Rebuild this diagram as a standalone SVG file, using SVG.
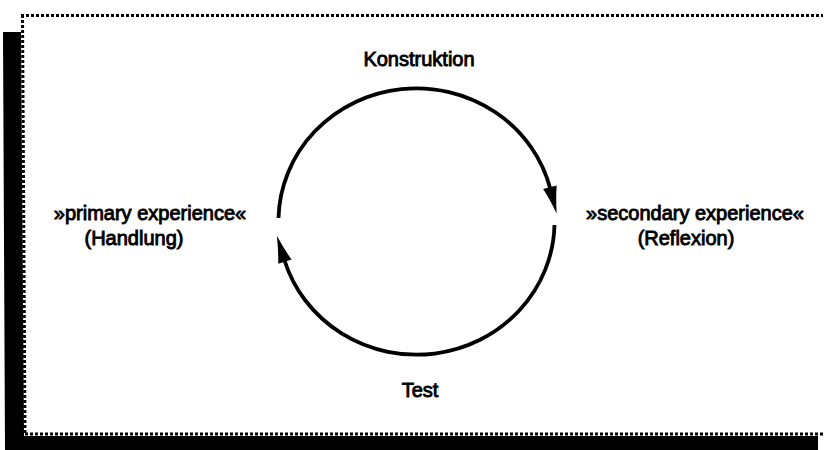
<svg xmlns="http://www.w3.org/2000/svg" width="825" height="450" viewBox="0 0 825 450">
<style>
.dot{fill:none;stroke:#000;stroke-width:3;stroke-dasharray:3 2}
.arc{fill:none;stroke:#000;stroke-width:3.8}
.lbl{font-family:"Liberation Sans",Arial,sans-serif;font-size:20px;fill:#000;stroke:#000;stroke-width:0.9;text-anchor:middle}
</style>
<defs>
<marker id="ah" markerUnits="userSpaceOnUse" orient="auto" refX="0" refY="0" markerWidth="30" markerHeight="20" overflow="visible">
<path d="M-2,-7 Q8,-3.5 25,0 Q8,3.5 -2,7 Z" fill="#000"/>
</marker>
</defs>
<rect width="825" height="450" fill="#fff"/>
<g id="frame">
<polygon points="3,32 21,32 24,436 818,436 818,450 5,450" fill="#000"/>
<line class="dot" x1="21" y1="15.5" x2="823" y2="15.5"/>
<line class="dot" x1="22.5" y1="15" x2="25" y2="434"/>
<line class="dot" x1="25" y1="434" x2="823" y2="434"/>
</g>
<g id="connectors">
<path id="c-konstruktion" class="arc" d="M 278.5 218 A 138 133 0 0 1 550.4 189.3" marker-end="url(#ah)"/>
<path id="c-test" class="arc" d="M 554.5 225 A 138 133 0 0 1 284.3 259.7" marker-end="url(#ah)"/>
</g>
<g id="konstruktion"><text class="lbl" x="419" y="66">Konstruktion</text></g>
<g id="test"><text class="lbl" x="420" y="397">Test</text></g>
<g id="primary">
<text class="lbl" x="150" y="220">»primary experience«</text>
<text class="lbl" x="134" y="245">(Handlung)</text>
</g>
<g id="secondary">
<text class="lbl" x="695" y="220">»secondary experience«</text>
<text class="lbl" x="686" y="245">(Reflexion)</text>
</g>
</svg>
